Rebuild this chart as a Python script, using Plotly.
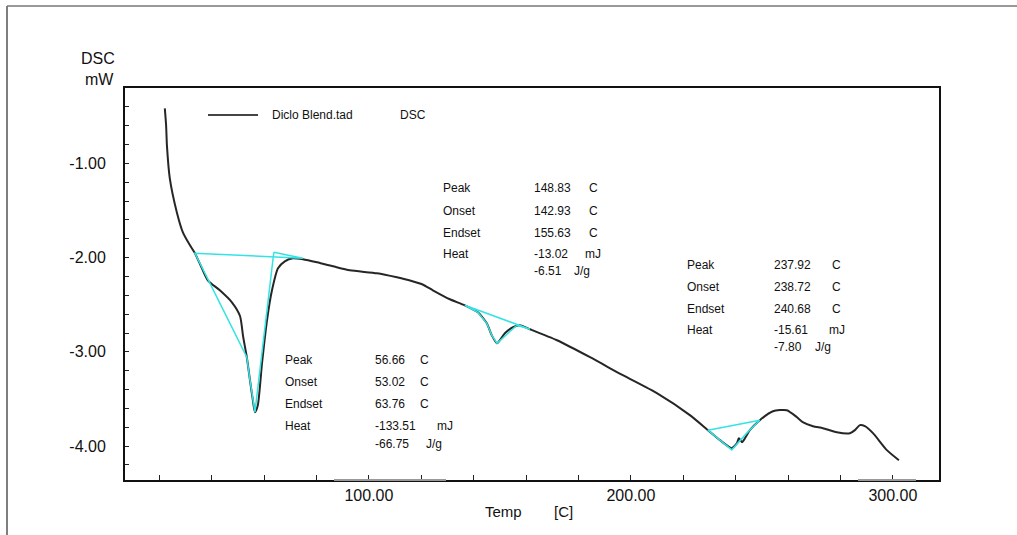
import plotly.graph_objects as go

# ---- DSC curve ----
temp = [22.1, 22.6, 22.9, 24.0, 26.7, 29.0, 31.7, 33.6, 35.9, 38.5, 43.1, 47.7, 50.8, 52.0, 53.4, 54.6,
        55.7, 56.5, 57.6, 59.2, 61.1, 63.0, 65.3, 67.9, 71.0, 74.8, 80.2, 86.3, 92.7, 103.1, 110.7,
        116.0, 120.5, 124.4, 130.9, 136.6, 141.6, 145.0, 146.9, 148.9, 151.9, 155.0, 157.6, 161.5,
        171.8, 184.4, 196.9, 209.9, 222.5, 229.4, 234.0, 238.5, 240.5, 241.2, 242.4, 243.1, 245.4,
        249.2, 254.2, 259.5, 263.4, 265.6, 269.5, 273.3, 278.6, 283.6, 285.5, 287.4, 289.3, 292.4,
        297.7, 302.3]
dsc = [-0.417, -0.600, -0.809, -1.159, -1.520, -1.732, -1.870, -1.954, -2.092, -2.241, -2.347, -2.474,
       -2.620, -2.840, -3.057, -3.301, -3.513, -3.640, -3.566, -3.121, -2.665, -2.347, -2.113, -2.039,
       -2.007, -2.018, -2.050, -2.092, -2.135, -2.166, -2.209, -2.245, -2.285, -2.347, -2.442, -2.506,
       -2.580, -2.697, -2.824, -2.909, -2.803, -2.739, -2.718, -2.760, -2.877, -3.057, -3.248, -3.439,
       -3.672, -3.831, -3.937, -4.022, -3.969, -3.916, -3.959, -3.937, -3.831, -3.725, -3.630, -3.619,
       -3.694, -3.746, -3.789, -3.810, -3.853, -3.863, -3.831, -3.778, -3.789, -3.863, -4.043, -4.150]

# ---- analysis construction lines (cyan) ----
p1_x = [63.7, 74.8, 33.6, 53.4, 54.6, 55.7, 56.5, 63.7]
p1_y = [-1.944, -2.007, -1.954, -3.057, -3.301, -3.513, -3.640, -1.944]
p2_x = [161.5, 136.6, 141.6, 145.0, 146.9, 148.9, 156.5, 161.5]
p2_y = [-2.760, -2.506, -2.580, -2.697, -2.824, -2.909, -2.718, -2.760]
p3_x = [249.2, 229.4, 234.0, 238.5, 244.3, 249.2]
p3_y = [-3.725, -3.831, -3.937, -4.040, -3.860, -3.725]

# ---- result tables ----
labels = ["Peak", "Onset", "Endset", "Heat"]
res1 = ["56.66", "53.02", "63.76", "-133.51", "-66.75"]
res2 = ["148.83", "142.93", "155.63", "-13.02", "-6.51"]
res3 = ["237.92", "238.72", "240.68", "-15.61", "-7.80"]
units = ["C", "C", "C", "mJ", "J/g"]

x_ticks = [100, 200, 300]
x_ticktext = ["100.00", "200.00", "300.00"]
y_ticks = [-1, -2, -3, -4]
y_ticktext = ["-1.00", "-2.00", "-3.00", "-4.00"]

FONT = "Liberation Sans, Arial, sans-serif"
CYAN = "#33E3E3"

fig = go.Figure()
fig.add_trace(go.Scatter(x=temp, y=dsc, mode="lines",
                         line=dict(color="#262626", width=2, shape="spline", smoothing=0.6),
                         showlegend=False))
for xs, ys in [(p1_x, p1_y), (p2_x, p2_y), (p3_x, p3_y)]:
    fig.add_trace(go.Scatter(x=xs, y=ys, mode="lines", line=dict(color=CYAN, width=1.5),
                             showlegend=False))

L, R, T, B = 125, 939, 88, 480
W, H = 1017, 535


def px(x):
    return (x - L) / (R - L)


def py(y):
    return (B - y) / (B - T)


ann = []


def txt(x, y, s, size=12, anchor="left"):
    ann.append(dict(x=px(x), y=py(y), xref="paper", yref="paper", text=s, showarrow=False,
                    xanchor=anchor, yanchor="middle", font=dict(family=FONT, size=size, color="#111")))


def table(lx, vx, ux_c, ux_mj, ux_jg, rows, vals):
    for i, lab in enumerate(labels):
        txt(lx, rows[i], lab)
    for i, v in enumerate(vals):
        txt(vx, rows[i], v)
    for i in range(3):
        txt(ux_c, rows[i], units[i])
    txt(ux_mj, rows[3], units[3])
    txt(ux_jg, rows[4], units[4])


table(283, 373, 418, 435, 424, [360, 382, 404, 426, 444], res1)
table(441, 532, 587, 583, 572, [188, 211, 233, 254, 271], res2)
table(685, 772, 830, 827, 813, [265, 287, 309, 330, 347], res3)

# legend
txt(270, 115, "Diclo Blend.tad")
txt(398, 115, "DSC")
# axis titles
txt(117, 58, "DSC", size=16, anchor="right")
txt(116, 80, "mW", size=16, anchor="right")
txt(483, 511, "Temp", size=15)
txt(552, 511, "[C]", size=15)

shapes = [
    dict(type="line", xref="paper", yref="paper", x0=px(208), x1=px(258), y0=py(115), y1=py(115),
         line=dict(color="#444", width=2)),
    dict(type="line", xref="paper", yref="paper", x0=px(7), x1=px(7), y0=py(6), y1=py(540),
         line=dict(color="#555", width=1.5)),
    dict(type="line", xref="paper", yref="paper", x0=px(7), x1=px(1020), y0=py(6), y1=py(6),
         line=dict(color="#777", width=1.5)),
    dict(type="line", xref="paper", yref="paper", x0=px(334), x1=px(446), y0=0, y1=0,
         line=dict(color="#999", width=2)),
    dict(type="line", xref="paper", yref="paper", x0=px(858), x1=px(916), y0=0, y1=0,
         line=dict(color="#999", width=2)),
]

fig.update_layout(
    width=W, height=H,
    margin=dict(l=L, r=W - R, t=T, b=H - B),
    plot_bgcolor="white", paper_bgcolor="white",
    font=dict(family=FONT, size=16, color="#111"),
    annotations=ann, shapes=shapes, showlegend=False,
    xaxis=dict(range=[6.9, 317.6], tickvals=x_ticks, ticktext=x_ticktext, ticks="inside", ticklen=5,
               tickcolor="#222", showgrid=False, zeroline=False, showline=True, linecolor="#111",
               linewidth=2, mirror=True, tickfont=dict(size=16),
               minor=dict(dtick=20, tick0=0, ticks="inside", ticklen=5, tickcolor="#222", showgrid=False)),
    yaxis=dict(range=[-4.36, -0.2], tickvals=y_ticks, ticktext=y_ticktext, ticks="inside", ticklen=4,
               tickcolor="#222", showgrid=False, zeroline=False, showline=True, linecolor="#111",
               linewidth=2, mirror=True, tickfont=dict(size=16), ticklabelstandoff=14,
               minor=dict(dtick=0.2, tick0=0, ticks="inside", ticklen=4, tickcolor="#222", showgrid=False)),
)

fig.write_html("out.html", config={"displayModeBar": False},
               post_script="document.body.style.margin='0';document.body.style.overflow='hidden';")
